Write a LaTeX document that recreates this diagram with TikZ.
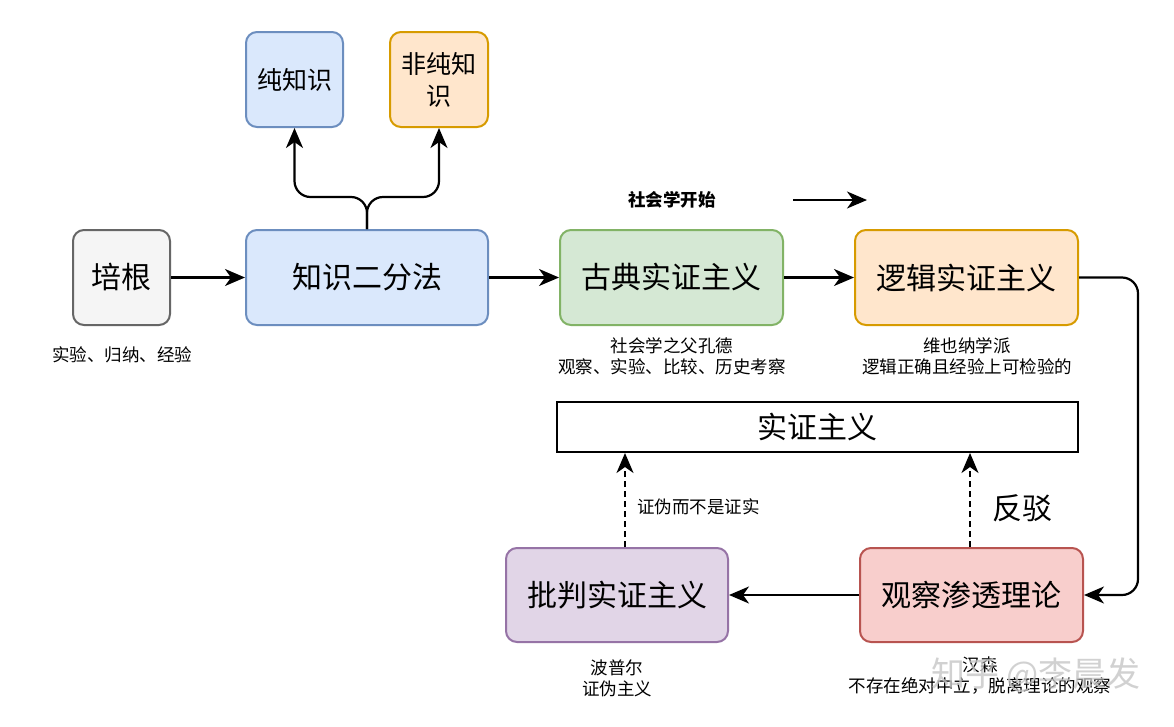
\documentclass[tikz,border=0pt]{standalone}
\usepackage{fontspec}
\setmainfont{Noto Sans CJK SC}
\usetikzlibrary{arrows.meta}
\definecolor{grayfill}{HTML}{F5F5F5}\definecolor{graydraw}{HTML}{666666}
\definecolor{bluefill}{HTML}{DAE8FC}\definecolor{bluedraw}{HTML}{6C8EBF}
\definecolor{orangefill}{HTML}{FFE6CC}\definecolor{orangedraw}{HTML}{D79B00}
\definecolor{greenfill}{HTML}{D5E8D4}\definecolor{greendraw}{HTML}{82B366}
\definecolor{purplefill}{HTML}{E1D5E7}\definecolor{purpledraw}{HTML}{9673A6}
\definecolor{redfill}{HTML}{F8CECC}\definecolor{reddraw}{HTML}{B85450}
\begin{document}
\begin{tikzpicture}[x=1pt,y=-1pt,
    box/.style={draw,line width=2pt,rounded corners=11pt,align=center,inner sep=0pt,
        minimum height=95pt,font=\fontsize{30}{34}\selectfont},
    lab/.style={align=center,inner sep=0pt,font=\fontsize{17.5}{21}\selectfont},
    arr/.style={line width=2.2pt,-{Stealth[length=20pt,width=17pt,inset=6pt]}}]
    \useasboundingbox[fill=white] (0,0) rectangle (1174,726);
    % boxes
    \node[box,fill=grayfill,draw=graydraw,minimum width=97pt] (peigen) at (121.5,277.5) {培根};
    \node[box,fill=bluefill,draw=bluedraw,minimum width=242pt] (erfen) at (367,277.5) {知识二分法};
    \node[box,fill=bluefill,draw=bluedraw,minimum width=97pt,font=\fontsize{25}{32}\selectfont] (chun) at (294.5,79.5) {纯知识};
    \node[box,fill=orangefill,draw=orangedraw,minimum width=98pt,font=\fontsize{25}{32}\selectfont] (feichun) at (439,79.5) {非纯知\\识};
    \node[box,fill=greenfill,draw=greendraw,minimum width=223pt] (gudian) at (671.5,277.5) {古典实证主义};
    \node[box,fill=orangefill,draw=orangedraw,minimum width=223pt] (luoji) at (966.5,277.5) {逻辑实证主义};
    \node[box,rounded corners=0pt,minimum width=521pt,minimum height=50pt] (shizheng) at (817.5,427) {实证主义};
    \node[box,fill=purplefill,draw=purpledraw,minimum width=222pt,minimum height=94pt] (pipan) at (617,595) {批判实证主义};
    \node[box,fill=redfill,draw=reddraw,minimum width=223pt,minimum height=94pt] (guancha) at (971.5,595) {观察渗透理论};
    % labels
    \node[lab] (peigenlab) at (122,355) {实验、归纳、经验};
    \node[lab] (gudianlab) at (672,356) {社会学之父孔德\\观察、实验、比较、历史考察};
    \node[lab] (luojilab) at (967,356) {维也纳学派\\逻辑正确且经验上可检验的};
    \node[lab,font=\fontsize{17.5}{21}\selectfont\bfseries] (kaishi) at (672,200) {社会学开始};
    \node[lab,anchor=west] (zhengwei) at (637,507) {证伪而不是证实};
    \node[lab,font=\fontsize{30}{34}\selectfont] (fanbo) at (1022,508) {反驳};
    \node[lab] (pipanlab) at (617,678) {波普尔\\证伪主义};
    \node[lab] (guanchalab) at (980,676) {汉森\\不存在绝对中立，脱离理论的观察};
    \node[lab,text=gray!45,opacity=0.8,font=\fontsize{34}{40}\selectfont] (mark) at (1036,675) {知乎 @李晨发};
    % connectors
    \draw[arr] (peigen) -- (erfen);
    \draw[arr] (erfen) -- (gudian);
    \draw[arr] (gudian) -- (luoji);
    \draw[arr,rounded corners=16pt] (erfen.north) -- ++(0,-32) -| (chun.south);
    \draw[arr,rounded corners=16pt] (erfen.north) -- ++(0,-32) -| (feichun.south);
    \draw[arr,rounded corners=16pt] (luoji.east) -- ++(59,0) |- (guancha.east);
    \draw[arr] (guancha) -- (pipan);
    \draw[arr,dash pattern=on 6pt off 4pt] ([xshift=8pt]pipan.north) -- ([xshift=8pt]pipan.north |- shizheng.south);
    \draw[arr,dash pattern=on 6pt off 4pt] ([xshift=-1.5pt]guancha.north) -- ([xshift=-1.5pt]guancha.north |- shizheng.south);
    \coordinate (kaishiA) at (793,200);
    \coordinate (kaishiB) at (867,200);
    \draw[arr] (kaishiA) -- (kaishiB);
\end{tikzpicture}
\end{document}
